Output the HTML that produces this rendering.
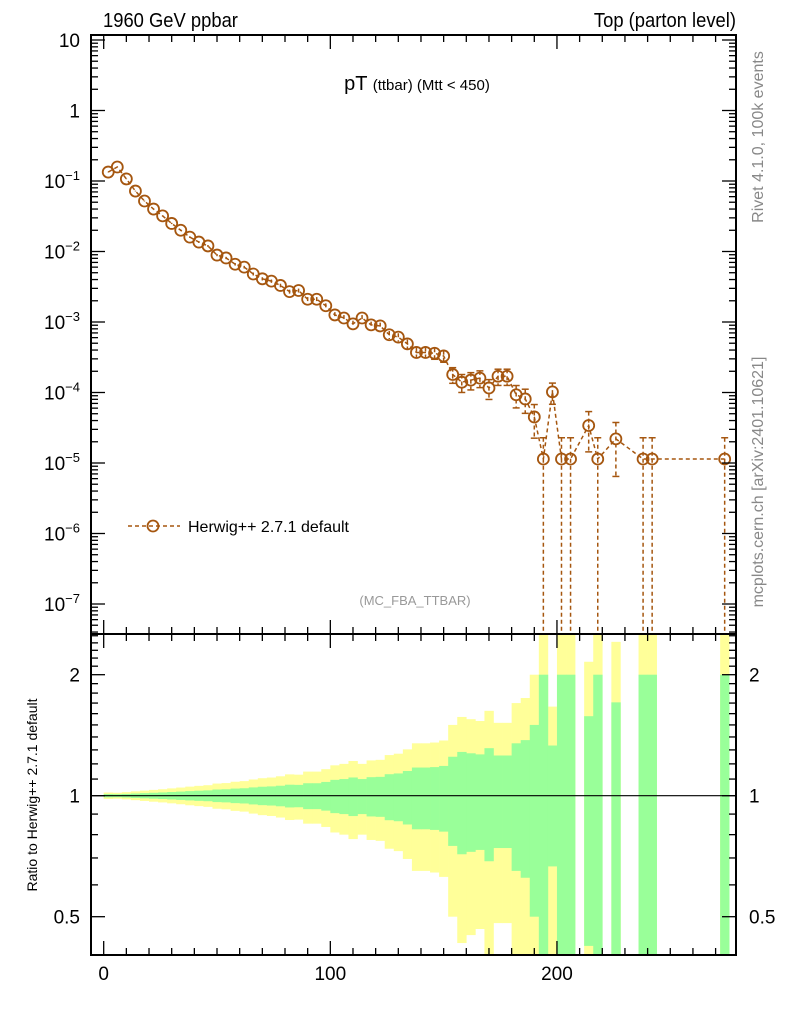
<!DOCTYPE html>
<html><head><meta charset="utf-8">
<style>
html,body{margin:0;padding:0;background:#fff;}
svg{display:block;font-family:"Liberation Sans",Arial,sans-serif;}
</style></head>
<body>
<svg id="c" width="786" height="1024" viewBox="0 0 786 1024" xmlns="http://www.w3.org/2000/svg">
  <text x="103" y="27" font-size="20" transform="translate(103 0) scale(0.92 1) translate(-103 0)">1960 GeV ppbar</text>
  <text x="736" y="27" font-size="20" text-anchor="end" transform="translate(736 0) scale(0.92 1) translate(-736 0)">Top (parton level)</text>
  <text x="417" y="90" text-anchor="middle" font-size="20">pT <tspan font-size="15">(ttbar) (Mtt &lt; 450)</tspan></text>
  <text x="0" y="0" font-size="16" fill="#888" text-anchor="middle" transform="translate(763 137) rotate(-90)">Rivet 4.1.0,  100k events</text>
  <text x="0" y="0" font-size="16" fill="#888" text-anchor="middle" transform="translate(763 482) rotate(-90)">mcplots.cern.ch [arXiv:2401.10621]</text>
  <text x="415" y="605" font-size="13" fill="#999" text-anchor="middle">(MC_FBA_TTBAR)</text>
  <text x="0" y="0" font-size="14" text-anchor="middle" transform="translate(37 795) rotate(-90)">Ratio to Herwig++ 2.7.1 default</text>
  <g id="ratio"></g>
  <g id="main"></g>
  <g id="axes"></g>
  <g>
    <line x1="128" y1="526" x2="180" y2="526" stroke="#a5560f" stroke-width="1.5" stroke-dasharray="4,3"/>
    <circle cx="153" cy="526" r="5.5" fill="none" stroke="#a5560f" stroke-width="1.8"/>
    <text x="188" y="532" font-size="16">Herwig++ 2.7.1 default</text>
  </g>
</svg>
<script>
const binCenters = [];
for (let i = 0; i < 70; i++) binCenters.push(2 + 4 * i);
const values = [0.134,0.158,0.107,0.072,0.052,0.040,0.032,0.025,0.020,0.016,
0.0136,0.012,0.0089,0.0081,0.0066,0.006,0.0048,0.0041,0.0038,0.0033,
0.0027,0.0028,0.0021,0.0021,0.0017,0.00126,0.00114,0.00094,0.00114,9.1e-4,
8.8e-4,6.6e-4,6.1e-4,4.9e-4,3.7e-4,3.7e-4,3.6e-4,3.3e-4,1.8e-4,1.4e-4,
1.5e-4,1.6e-4,1.16e-4,1.7e-4,1.7e-4,9.3e-5,8.1e-5,4.5e-5,1.14e-5,1.02e-4,
1.14e-5,1.14e-5,0,3.4e-5,1.14e-5,0,2.2e-5,0,0,1.14e-5,
1.14e-5,0,0,0,0,0,0,0,1.14e-5,0];
const relErrors = [.0092,.0085,.0103,.0126,.0148,.0169,.0189,.0214,.0239,.0267,
.029,.031,.036,.0375,.0416,.0436,.0487,.0527,.0548,.0588,
.065,.064,.074,.074,.082,.095,.10,.11,.10,.112,
.114,.131,.136,.152,.175,.175,.178,.186,.25,.285,
.275,.267,.313,.259,.259,.35,.375,.5,1,.333,
1,1,0,.577,1,0,.707,0,0,1,
1,0,0,0,0,0,0,0,1,0];
const binWidth = 4;
const mainYTicks = [1,0,-1,-2,-3,-4,-5,-6,-7];
const xTickLabels = [0,100,200];
const ratioTickLabels = [2,1,0.5];

const NS='http://www.w3.org/2000/svg';
const X0=91,X1=736, Y0=35, Y1=634, R0=634, R1=955;
const xmin=-5.6, xmax=279;
function sx(v){return X0+(v-xmin)/(xmax-xmin)*(X1-X0);}
function sy(v){return 110.5-70.5*Math.log10(v);}
function ry(r){return 795.7-121*Math.log2(r);}
function el(tag,attrs,parent){const e=document.createElementNS(NS,tag);for(const k in attrs)e.setAttribute(k,attrs[k]);parent.appendChild(e);return e;}
const C='#a5560f';
const main=document.getElementById('main'), ratio=document.getElementById('ratio'), axes=document.getElementById('axes');

const rTop=Math.pow(2,(795.7-R0)/121), rBot=Math.pow(2,(795.7-R1)/121);
function clampR(r){return Math.min(rTop,Math.max(rBot,r));}
for(let k=0;k<2;k++){
  for(let i=0;i<values.length;i++){
    if(values[i]<=0) continue;
    const e=relErrors[i]*(k===0?2:1);
    const up=clampR(1+e), lo=(1-e)<=rBot?rBot:clampR(1-e);
    const xa=sx(binCenters[i]-binWidth/2), xb=sx(binCenters[i]+binWidth/2);
    const r=el('rect',{x:xa,y:ry(up),width:xb-xa+0.3,height:ry(lo)-ry(up),fill:k===0?'#ffff99':'#99ff99'},ratio);
    
    
  }
}
const one=el('line',{x1:X0,x2:X1,y1:ry(1),y2:ry(1),stroke:'#000','stroke-width':1.2},ratio);



const pts=[];
for(let i=0;i<values.length;i++) if(values[i]>0) pts.push([sx(binCenters[i]),sy(values[i])]);
const pl=el('polyline',{points:pts.map(p=>p.join(',')).join(' '),fill:'none',stroke:C,'stroke-width':1.5,'stroke-dasharray':'4,3'},main);


for(let i=0;i<values.length;i++){
  if(values[i]<=0) continue;
  const v=values[i], e=relErrors[i]*v, x=sx(binCenters[i]);
  const yt=sy(v+e), yb=(v-e)>0?sy(v-e):Y1;
  const g=el('g',{},main);
  
  
  el('line',{x1:x,x2:x,y1:Math.max(Y0,yt),y2:Math.min(Y1,yb),stroke:C,'stroke-width':1.5,'stroke-dasharray':'4,3'},g);
  if(yt-sy(v)< -6) el('line',{x1:x-3.5,x2:x+3.5,y1:yt,y2:yt,stroke:C,'stroke-width':1.5},g);
  if(yb<Y1 && yb-sy(v)>6) el('line',{x1:x-3.5,x2:x+3.5,y1:yb,y2:yb,stroke:C,'stroke-width':1.5},g);
  el('circle',{cx:x,cy:sy(v),r:5.5,fill:'none',stroke:C,'stroke-width':1.8},g);
}

for(const [a,b,n] of [[Y0,Y1,'main-frame'],[R0,R1,'ratio-frame']]){
  const f=el('rect',{x:X0,y:a,width:X1-X0,height:b-a,fill:'none',stroke:'#000','stroke-width':2},axes);
  
  
}
for(let v=0;v<=xmax;v+=10){
  const x=sx(v), big=v%100===0;
  const L=big?14:7;
  for(const [yy,d] of [[Y0,1],[Y1,-1],[R0,1],[R1,-1]]) el('line',{x1:x,x2:x,y1:yy,y2:yy+d*L,stroke:'#000','stroke-width':1.3},axes);
}
xTickLabels.forEach(v=>{
  const t=el('text',{x:sx(v),y:980,'font-size':19,'text-anchor':'middle'},axes);
  t.textContent=v;
  
  
});
for(let d=-8;d<=1;d++){
  for(let m=1;m<10;m++){
    const y=sy(m*Math.pow(10,d));
    if(y<Y0||y>Y1) continue;
    const L=m===1?14:7;
    el('line',{x1:X0,x2:X0+L,y1:y,y2:y,stroke:'#000','stroke-width':1.3},axes);
    el('line',{x1:X1,x2:X1-L,y1:y,y2:y,stroke:'#000','stroke-width':1.3},axes);
  }
}
mainYTicks.forEach(p=>{
  const y=sy(Math.pow(10,p));
  const t=el('text',{x:80,y:y+7,'font-size':19,'text-anchor':'end'},axes);
  if(p===1) t.textContent='10';
  else if(p===0) t.textContent='1';
  else { t.textContent='10'; const s=el('tspan',{dy:-8,'font-size':13},t); s.textContent=String(p).replace('-','\u2212'); }
  
  
});
const rt=[0.4,0.5,0.6,0.7,0.8,0.9,1,1.1,1.2,1.3,1.4,1.5,1.6,1.7,1.8,1.9,2,2.1,2.2,2.3,2.4,2.5];
rt.forEach(r=>{
  const y=ry(r); if(y<R0||y>R1) return;
  const big=[0.5,1,2].includes(r); const L=big?14:7;
  el('line',{x1:X0,x2:X0+L,y1:y,y2:y,stroke:'#000','stroke-width':1.3},axes);
  el('line',{x1:X1,x2:X1-L,y1:y,y2:y,stroke:'#000','stroke-width':1.3},axes);
});
ratioTickLabels.forEach(r=>{
  for(const [x,a] of [[80,'end'],[749,'start']]){
    const t=el('text',{x:x,y:ry(r)+7,'font-size':19,'text-anchor':a},axes);
    t.textContent=r;
    
    
  }
});
</script>
</body></html>
